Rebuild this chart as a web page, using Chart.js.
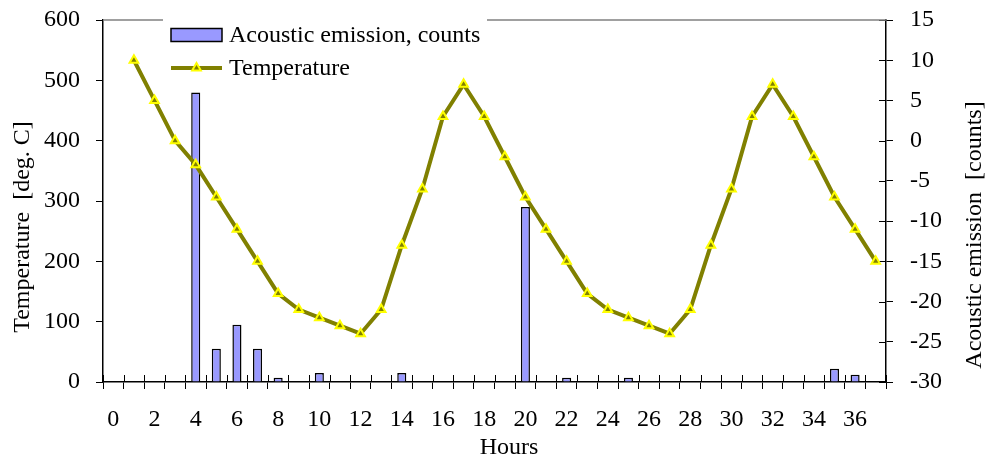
<!DOCTYPE html>
<html>
<head>
<meta charset="utf-8">
<script src="https://cdn.jsdelivr.net/npm/chart.js@4.4.1/dist/chart.umd.min.js"></script>
<style>
  html, body { margin: 0; padding: 0; background: #fff; }
  #wrap { width: 987px; height: 459px; }
</style>
</head>
<body>
<div id="wrap"><canvas id="chart" width="987" height="459"></canvas></div>
<script>
// Hours 0..37
const hours = Array.from({ length: 38 }, (_, i) => String(i));

// Acoustic emission counts per hour (left axis)
const emission = [null, null, null, null, 480, 55, 95, 55, 7, null,
                  15, null, null, null, 15, null, null, null, null, null,
                  290, null, 7, null, null, 7, null, null, null, null,
                  null, null, null, null, null, 22, 12, null];

// Temperature per hour (right axis)
const temperature = [null, 10, 5, 0, -3, -7, -11, -15, -19, -21,
                     -22, -23, -24, -21, -13, -6, 3, 7, 3, -2,
                     -7, -11, -15, -19, -21, -22, -23, -24, -21, -13,
                     -6, 3, 7, 3, -2, -7, -11, -15];

const leftTicks = [0, 100, 200, 300, 400, 500, 600];
const rightTicks = [-30, -25, -20, -15, -10, -5, 0, 5, 10, 15];

const FONT = '"Liberation Serif", "Times New Roman", serif';
const FS = 24;
Chart.defaults.font.family = FONT;
Chart.defaults.font.size = FS;
Chart.defaults.font.lineHeight = 1;
Chart.defaults.color = '#000';

// Axis titles, top frame line, legend box and the inner half of the cross ticks
const decor = {
  id: 'decor',
  beforeDatasetsDraw(chart) {
    const { ctx, chartArea: ca, scales } = chart;
    ctx.save();

    // inner halves of the tick marks on x and right axes
    ctx.strokeStyle = '#000';
    ctx.lineWidth = 1;
    const xs = scales.x;
    const half = (xs.getPixelForValue(1) - xs.getPixelForValue(0)) / 2;
    for (let i = 0; i <= hours.length; i++) {
      const px = Math.round(xs.getPixelForValue(0) - half + i * half * 2) + 0.5;
      ctx.beginPath();
      ctx.moveTo(px, ca.bottom);
      ctx.lineTo(px, ca.bottom - 7);
      ctx.stroke();
    }
    const ys = scales.y2;
    rightTicks.forEach(v => {
      const py = Math.round(ys.getPixelForValue(v)) + 0.5;
      ctx.beginPath();
      ctx.moveTo(ca.right, py);
      ctx.lineTo(ca.right - 7, py);
      ctx.stroke();
    });

    // top frame line
    ctx.strokeStyle = '#808080';
    ctx.lineWidth = 1.5;
    ctx.beginPath();
    ctx.moveTo(ca.left, ca.top);
    ctx.lineTo(ca.right, ca.top);
    ctx.stroke();

    // legend
    const bar = chart.data.datasets[1];
    const line = chart.data.datasets[0];
    ctx.fillStyle = '#fff';
    ctx.fillRect(163, 10, 324, 70);

    ctx.fillStyle = bar.backgroundColor;
    ctx.fillRect(171, 28.5, 51, 13);
    ctx.strokeStyle = bar.borderColor;
    ctx.lineWidth = 1.5;
    ctx.strokeRect(171, 28.5, 51, 13);

    ctx.strokeStyle = line.borderColor;
    ctx.lineWidth = line.borderWidth;
    ctx.beginPath();
    ctx.moveTo(171, 68);
    ctx.lineTo(222, 68);
    ctx.stroke();
    ctx.fillStyle = line.pointBackgroundColor;
    ctx.strokeStyle = line.pointBorderColor;
    ctx.lineWidth = line.pointBorderWidth;
    Chart.helpers.drawPoint(ctx, {
      pointStyle: 'triangle', radius: line.pointRadius, borderWidth: line.pointBorderWidth
    }, 196.5, 68);

    ctx.fillStyle = '#000';
    ctx.font = FS + 'px ' + FONT;
    ctx.textAlign = 'left';
    ctx.textBaseline = 'middle';
    ctx.fillText(bar.label, 229, 36);
    ctx.fillText(line.label, 229, 69);
    ctx.restore();
  },
  afterDraw(chart) {
    const { ctx } = chart;
    ctx.save();
    ctx.fillStyle = '#000';
    ctx.font = FS + 'px ' + FONT;
    ctx.textAlign = 'center';
    ctx.textBaseline = 'middle';
    ctx.fillText('Hours', 509, 448);

    ctx.translate(23, 227);
    ctx.rotate(-Math.PI / 2);
    ctx.fillText('Temperature  [deg. C]', 0, 0);
    ctx.restore();

    ctx.save();
    ctx.fillStyle = '#000';
    ctx.font = FS + 'px ' + FONT;
    ctx.textAlign = 'center';
    ctx.textBaseline = 'middle';
    ctx.translate(975, 235);
    ctx.rotate(-Math.PI / 2);
    ctx.fillText('Acoustic emission  [counts]', 0, 0);
    ctx.restore();
  }
};

// fixed axis sizes, no extra vertical padding from the tick labels
const fitVertical = w => s => {
  s.width = w;
  s.paddingTop = 0;
  s.paddingBottom = 0;
};

new Chart(document.getElementById('chart'), {
  type: 'bar',
  data: {
    labels: hours,
    datasets: [
      {
        type: 'line',
        label: 'Temperature',
        data: temperature,
        yAxisID: 'y2',
        borderColor: '#808000',
        borderWidth: 4,
        pointStyle: 'triangle',
        pointRadius: 5,
        pointBackgroundColor: '#808000',
        pointBorderColor: '#ffff00',
        pointBorderWidth: 2,
        tension: 0,
        spanGaps: false,
        order: 1
      },
      {
        type: 'bar',
        label: 'Acoustic emission, counts',
        data: emission,
        yAxisID: 'y',
        backgroundColor: '#9999ff',
        borderColor: '#000',
        borderWidth: 1.5,
        barPercentage: 0.5,
        categoryPercentage: 0.88,
        order: 2
      }
    ]
  },
  options: {
    responsive: false,
    animation: false,
    layout: { padding: { top: 20, left: 0, right: 0, bottom: 0 } },
    plugins: { legend: { display: false }, tooltip: { enabled: false } },
    scales: {
      x: {
        type: 'category',
        offset: true,
        grid: { offset: true, drawOnChartArea: false, tickLength: 7, color: '#000', lineWidth: 1 },
        border: { display: true, color: '#000', width: 1.5 },
        ticks: {
          autoSkip: false,
          maxRotation: 0,
          padding: 19,
          callback: (v, i) => (i % 2 === 0 ? hours[i] : '')
        },
        afterFit: s => { s.height = 77; s.paddingLeft = 0; s.paddingRight = 0; }
      },
      y: {
        position: 'left',
        min: 0,
        max: 600,
        afterBuildTicks: s => { s.ticks = leftTicks.map(v => ({ value: v })); },
        grid: { drawOnChartArea: false, tickLength: 7, color: '#000' },
        border: { display: true, color: '#000', width: 1.5 },
        ticks: { padding: 16 },
        afterFit: fitVertical(103)
      },
      y2: {
        position: 'right',
        min: -30,
        max: 15,
        afterBuildTicks: s => { s.ticks = rightTicks.map(v => ({ value: v })); },
        grid: { drawOnChartArea: false, tickLength: 7, color: '#000' },
        border: { display: true, color: '#000', width: 1.5 },
        ticks: { padding: 17 },
        afterFit: fitVertical(101)
      }
    }
  },
  plugins: [decor]
});
</script>
</body>
</html>
